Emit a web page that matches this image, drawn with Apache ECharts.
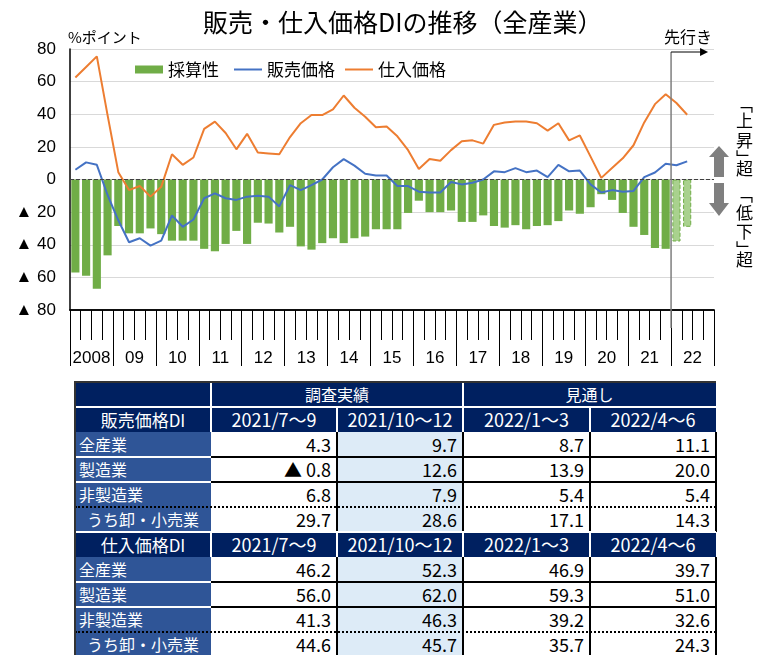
<!DOCTYPE html>
<html>
<head>
<meta charset="utf-8">
<script src="https://cdn.jsdelivr.net/npm/echarts@6/dist/echarts.min.js"></script>
<style>
body { margin:0; width:768px; height:655px; overflow:hidden; background:#fff; position:relative; }
#main { position:absolute; left:0; top:0; width:768px; height:370px; }
.c { position:absolute; box-sizing:border-box; font-family:'Noto Sans CJK JP', sans-serif; white-space:nowrap; line-height:25px; }
</style>
</head>
<body>
<div id="main"></div>
<div id="tbl"></div>
<script>
// 暦年ラベル（2008〜2022）
var years = ['2008','09','10','11','12','13','14','15','16','17','18','19','20','21','22'];
// 採算性DI（2008/1-3 〜 2022/4-6、最後の2期は見通し）
var profit = [-57,-59,-67,-46.5, -28.5,-33,-33,-30, -33.5,-37.5,-37.5,-37.5, -42.5,-44,-39.5,-31.5,
	-39.5,-26.5,-27,-32.5, -29,-41,-43,-39, -36,-39,-36,-35, -30.5,-30.5,-30.5,-20.5,
	-13,-20,-20,-19, -26,-26,-22,-28.5, -29.5,-28,-30.5,-28.5, -28,-25.5,-19,-21,
	-17,-9,-12.5,-20.5, -29,-34,-42,-42.5, -38,-29];
// 販売価格DI
var sales = [6,10.5,9,-9.5, -25,-38.5,-36,-40.5, -37.5,-22,-29,-24.5, -11.5,-8.5,-11.5,-12.5,
	-10.5,-10,-10.5,-16.5, -3.5,-6.5,-3.5,0, 7.5,12.5,8.5,3.5, 2.5,2.5,-4,-4,
	-7.5,-8,-8,-1.5, -3,-2,0,5, 4.5,7,4.5,5.5, 1.5,9,5,5.5,
	-3,-8,-6.5,-7.5, -7,1.5,4.3,9.7, 8.7,11.1];
// 仕入価格DI
var cost = [62.5,69,75.5,39.5, 4.5,-6.5,-4,-10.5, -4.5,15.5,9,13.5, 31,35.5,28.5,18.5,
	28,16.5,16,15.5, 26,34.5,39.5,39.5, 43,51.5,44,38.5, 32,32.5,26.5,18,
	6.5,12.5,11.5,18, 23.5,24,22,33.5, 35,35.5,35.5,34.5, 30,34.5,24,27,
	14,1,7,13, 21,35,46.2,52.3, 46.9,39.7];
var forecastStart = 56;

// 表のデータ
var tableCols = ['2021/7～9','2021/10～12','2022/1～3','2022/4～6'];
var sectors = ['全産業','製造業','非製造業','うち卸・小売業'];
var salesDI = [[4.3,9.7,8.7,11.1],[-0.8,12.6,13.9,20.0],[6.8,7.9,5.4,5.4],[29.7,28.6,17.1,14.3]];
var costDI = [[46.2,52.3,46.9,39.7],[56.0,62.0,59.3,51.0],[41.3,46.3,39.2,32.6],[44.6,45.7,35.7,24.3]];

var quarters = [];
years.forEach(function(y){ for (var q=1;q<=4;q++) quarters.push(y+'Q'+q); });

var JP = "'Noto Sans CJK JP', sans-serif";
var NUM = "'Liberation Sans', 'Noto Sans CJK JP', sans-serif";

var myChart = echarts.init(document.getElementById('main'));
var option = {
	animation:false,
	title : {
		text : '販売・仕入価格DIの推移（全産業）',
		left : 198,
		top : 5,
		textStyle : { fontFamily:JP, fontSize:25, fontWeight:'normal', color:'#000' }
	},
	legend : [ {
		data : [ { name:'採算性', icon:'rect' } ],
		left : 130, top : 56,
		itemWidth : 28, itemHeight : 8,
		textStyle : { fontFamily:JP, fontSize:17, color:'#000' }
	}, {
		data : [ { name:'販売価格', icon:'rect' }, { name:'仕入価格', icon:'rect' } ],
		left : 229, top : 56,
		itemWidth : 28, itemHeight : 2, itemGap : 10,
		textStyle : { fontFamily:JP, fontSize:17, color:'#000' }
	} ],
	grid : { left:70, right:54, top:49, bottom:60 },
	xAxis : [ {
		type : 'category',
		data : quarters,
		position : 'bottom',
		axisLine : { show:true, onZero:false, lineStyle:{ color:'#000', width:1.5 } },
		axisTick : { show:true, interval:0, length:30, lineStyle:{ color:'#000', width:1 } },
		axisLabel : { show:false },
		splitLine : { show:false }
	}, {
		type : 'category',
		data : years,
		position : 'bottom',
		axisLine : { show:true, onZero:false, lineStyle:{ color:'#000', width:1.5 } },
		axisTick : { show:true, interval:0, length:56, lineStyle:{ color:'#000', width:1 } },
		axisLabel : { interval:0, margin:40, fontFamily:NUM, fontSize:17, color:'#000' },
		splitLine : { show:false }
	} ],
	yAxis : [ {
		type : 'value',
		min : -80, max : 80, interval : 20,
		axisLine : { show:true, lineStyle:{ color:'#000', width:1.5 } },
		axisTick : { show:false },
		splitLine : { lineStyle:{ color:'#d9d9d9', width:1 } },
		axisLabel : {
			margin : 14, fontFamily:NUM, fontSize:17, color:'#000',
			formatter : function(v){ return v < 0 ? '▲ ' + (-v) : '' + v; }
		}
	} ],
	series : [ {
		name : '採算性',
		type : 'bar',
		barWidth : '76%',
		itemStyle : { color:'#70ad47' },
		data : profit.map(function(v, i){
			if (i >= forecastStart) {
				return { value:v, itemStyle:{ color:'#a9d18e', borderColor:'#70ad47', borderType:'dashed', borderWidth:1 } };
			}
			return v;
		}),
		markLine : {
			silent:true, symbol:'none', label:{ show:false },
			lineStyle:{ color:'#404040', type:'dashed', width:1 },
			data:[ { yAxis:0 } ]
		},
		z : 2
	}, {
		name : '販売価格',
		type : 'line',
		data : sales,
		symbol : 'none',
		lineStyle : { color:'#4472c4', width:2 },
		itemStyle : { color:'#4472c4' },
		z : 3
	}, {
		name : '仕入価格',
		type : 'line',
		data : cost,
		symbol : 'none',
		lineStyle : { color:'#ed7d31', width:2 },
		itemStyle : { color:'#ed7d31' },
		z : 3
	} ]
};
myChart.setOption(option);

// 先行きの区切り線
var divX = (myChart.convertToPixel({xAxisIndex:0}, quarters[forecastStart-1]) +
	myChart.convertToPixel({xAxisIndex:0}, quarters[forecastStart])) / 2;
var gray = '#7f7f7f';
function vtext(chars, x, ys) {
	return chars.map(function(ch, i){
		return { type:'text', left:x - 9, top:ys[i], style:{ text:ch, font:'17px ' + JP, fill:'#000' } };
	});
}
var graphics = [
	{ type:'text', left:68, top:30, style:{ text:'%ポイント', font:'15px ' + JP, fill:'#000' } },
	{ type:'text', left:664, top:29, style:{ text:'先行き', font:'16px ' + JP, fill:'#000' } },
	{ type:'line', shape:{ x1:divX, y1:52, x2:divX, y2:328 }, style:{ stroke:gray, lineWidth:1.5 }, z:10 },
	{ type:'line', shape:{ x1:divX, y1:52, x2:divX + 30, y2:52 }, style:{ stroke:'#000', lineWidth:1 }, z:10 },
	{ type:'polygon', shape:{ points:[[divX+29,48],[divX+37,52],[divX+29,56]] }, style:{ fill:'#000' }, z:10 },
	{ type:'polygon', shape:{ points:[[719,146],[729,157],[724,157],[724,177],[714,177],[714,157],[709,157]] }, style:{ fill:gray } },
	{ type:'polygon', shape:{ points:[[714,183],[724,183],[724,203],[729,203],[719,216],[709,203],[714,203]] }, style:{ fill:gray } }
];
graphics = graphics.concat(vtext(['﹁','上','昇','﹂','超'], 745, [96,112,132,150,160]));
graphics = graphics.concat(vtext(['﹁','低','下','﹂','超'], 745, [186,204,223,241,251]));
myChart.setOption({ graphic: graphics });

// 表
var tbl = document.getElementById('tbl');
var colX = [75, 211, 337, 463, 590, 716];
var top0 = 382, rowH = 25;
var NAVY = '#002060', LABEL = '#2f5597', PALE = '#ddebf7';
function box(x, y, w, h, css, text) {
	var d = document.createElement('div');
	d.className = 'c';
	d.style.left = x + 'px'; d.style.top = y + 'px';
	d.style.width = w + 'px'; d.style.height = h + 'px';
	for (var k in css) d.style[k] = css[k];
	if (text !== undefined) d.textContent = text;
	tbl.appendChild(d);
	return d;
}
function fmt(v) { return v < 0 ? '▲ ' + (-v).toFixed(1) : v.toFixed(1); }

// 1行目
box(75, top0, 641, rowH, { background:NAVY });
box(211, top0, 252, rowH, { color:'#fff', fontSize:'16px', textAlign:'center' }, '調査実績');
box(463, top0, 253, rowH, { color:'#fff', fontSize:'16px', textAlign:'center' }, '見通し');
box(210, top0, 2, rowH, { background:'#fff' });
box(462, top0, 2, rowH, { background:'#fff' });

function section(r0, title, data) {
	var y = top0 + r0 * rowH;
	box(75, y, 641, rowH, { background:NAVY });
	box(75, y, 136, rowH, { color:'#fff', fontSize:'17px', textAlign:'center' }, title);
	tableCols.forEach(function(c, j){
		box(colX[j+1], y, colX[j+2] - colX[j+1], rowH, { color:'#fff', fontSize:'18px', textAlign:'center' }, c);
	});
	[210, 336, 462, 589].forEach(function(x){ box(x, y, 2, rowH, { background:'#fff' }); });
	box(75, y - 1, 641, 2, { background:'#fff' });
	data.forEach(function(row, i){
		var yy = y + (i + 1) * rowH;
		box(75, yy, 136, rowH, { background:LABEL, color:'#fff', fontSize:'16px',
			textAlign: i === 3 ? 'center' : 'left', paddingLeft: i === 3 ? '0' : '4px' }, sectors[i]);
		row.forEach(function(v, j){
			box(colX[j+1], yy, colX[j+2] - colX[j+1], rowH, { background: j === 1 ? PALE : '#fff',
				color:'#000', fontSize:'18px', textAlign:'right', paddingRight:'6px' }, fmt(v));
		});
		[336, 462, 589, 715].forEach(function(x){ box(x, yy, 2, rowH, { background:'#000' }); });
		if (i > 0) {
			if (i === 3) {
				box(75, yy - 1, 641, 2, { borderTop:'2px dotted #000' });
			} else {
				box(75, yy - 1, 136, 2, { background:'#fff' });
				box(211, yy - 1, 506, 2, { background:'#000' });
			}
		}
	});
}
section(1, '販売価格DI', salesDI);
section(6, '仕入価格DI', costDI);
box(75, top0 - 1, 641, 2, { background:'#333' });
box(74, top0 - 1, 2, 280, { background:'#333' });
</script>
</body>
</html>
